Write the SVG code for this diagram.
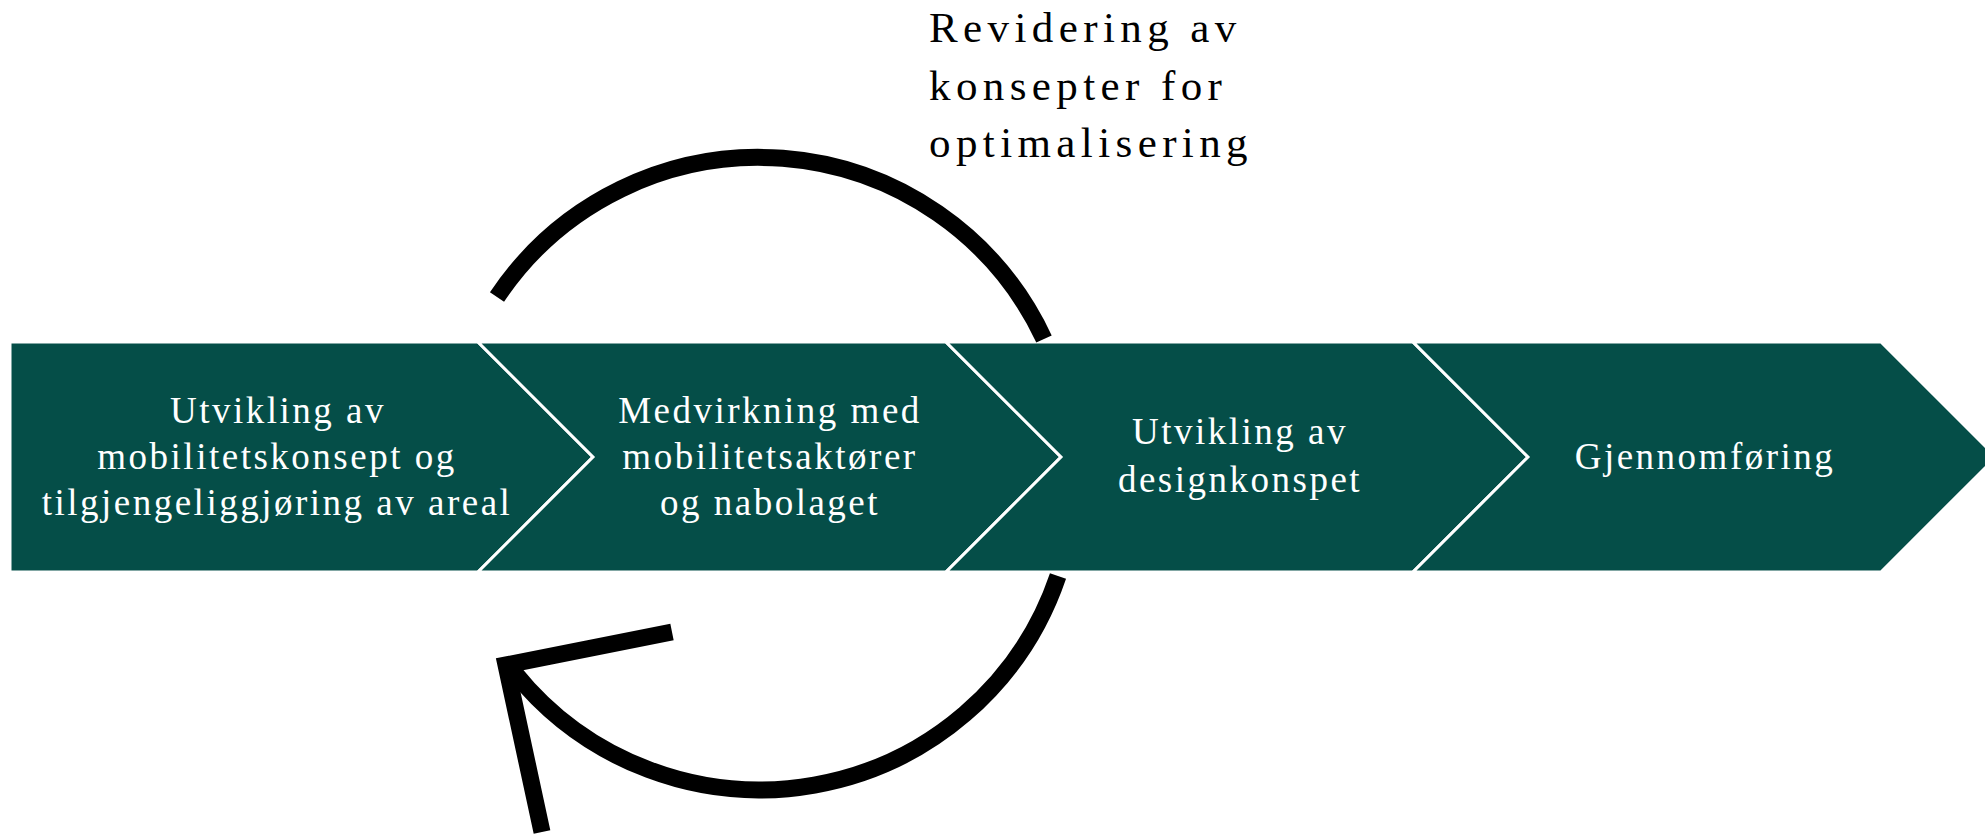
<svg xmlns="http://www.w3.org/2000/svg" width="1985" height="834" viewBox="0 0 1985 834">
<style>
.shape{fill:#054e48;stroke:#ffffff;stroke-width:3;stroke-linejoin:miter}
.lbl{font-family:"Liberation Serif","Times New Roman",serif;font-size:37px;letter-spacing:2.5px;fill:#ffffff;text-anchor:middle}
.top{font-family:"Liberation Serif","Times New Roman",serif;font-size:43px;letter-spacing:5.4px;fill:#000000}
.conn{fill:none;stroke:#000000;stroke-width:17}
</style>
<rect width="1985" height="834" fill="#ffffff"/>
<g id="step1">
<polygon class="shape" points="10,342 478,342 593,457 478,572 10,572"/>
<text class="lbl"><tspan x="278" y="423">Utvikling av</tspan><tspan x="277" y="469">mobilitetskonsept og</tspan><tspan x="277" y="515">tilgjengeliggjøring av areal</tspan></text>
</g>
<g id="step2">
<polygon class="shape" points="478,342 946,342 1061,457 946,572 478,572 593,457"/>
<text class="lbl"><tspan x="770" y="423">Medvirkning med</tspan><tspan x="770" y="469">mobilitetsaktører</tspan><tspan x="770" y="515">og nabolaget</tspan></text>
</g>
<g id="step3">
<polygon class="shape" points="946,342 1413,342 1528,457 1413,572 946,572 1061,457"/>
<text class="lbl"><tspan x="1240" y="444">Utvikling av</tspan><tspan x="1240" y="492">designkonspet</tspan></text>
</g>
<g id="step4">
<polygon class="shape" points="1413,342 1881,342 1996,457 1881,572 1413,572 1528,457"/>
<text class="lbl"><tspan x="1705" y="469">Gjennomføring</tspan></text>
</g>
<g id="loop-label">
<text class="top"><tspan x="929" y="42">Revidering av</tspan><tspan x="929" y="100">konsepter for</tspan><tspan x="929" y="157">optimalisering</tspan></text>
</g>
<g id="connectors">
<path class="conn" d="M 497,297 A 315,315 0 0 1 1044,339"/>
<path class="conn" d="M 1058,576 A 315,315 0 0 1 514,672"/>
<polyline class="conn" points="672,632 506,665 542,832" stroke-linejoin="miter" stroke-miterlimit="10"/>
</g>
</svg>
